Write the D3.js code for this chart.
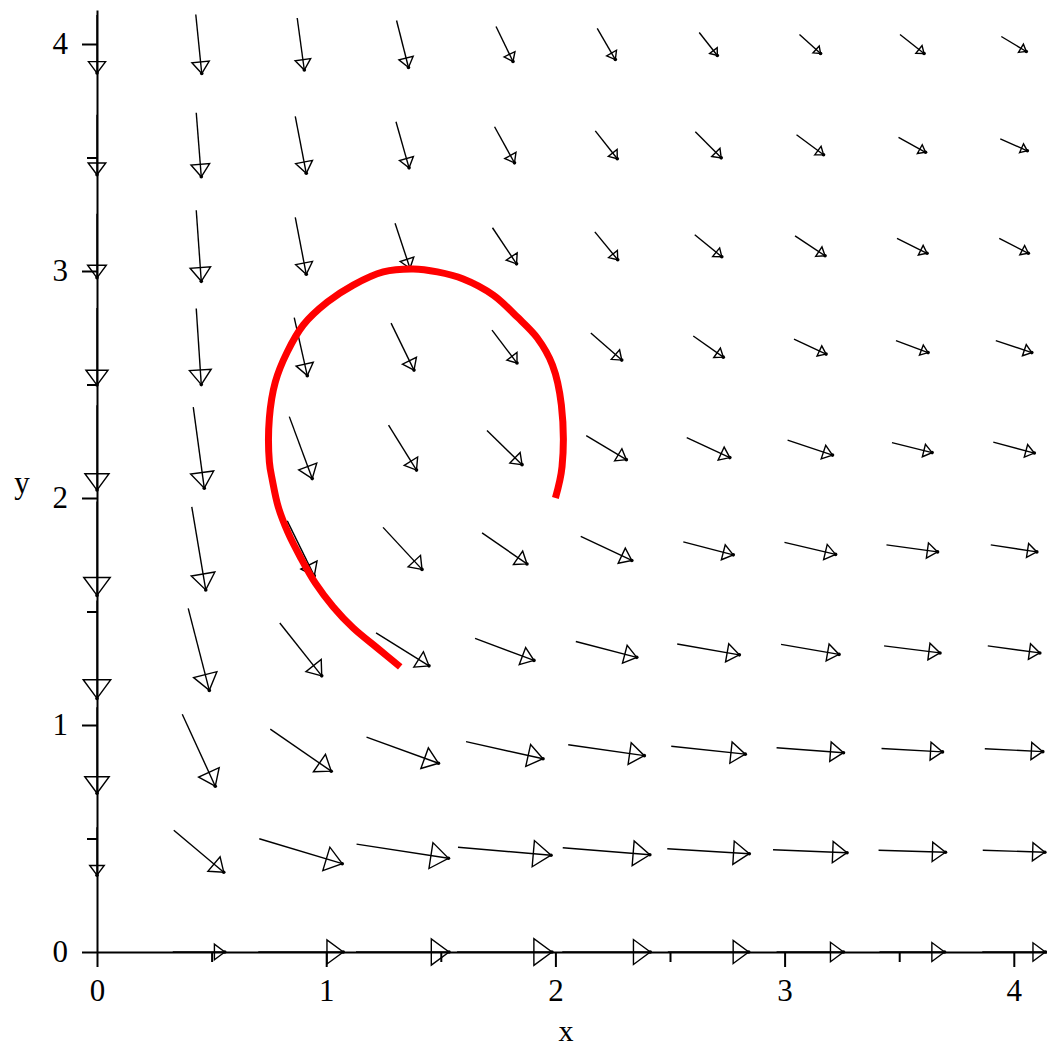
<!DOCTYPE html>
<html>
<head>
<meta charset="utf-8">
<script src="https://cdn.jsdelivr.net/npm/d3@7"></script>
<style>
  body { margin: 0; background: #fff; }
  svg { display: block; }
</style>
</head>
<body>
<script>
'use strict';

var width = 1047,
    height = 1050;

// grid points of the direction field (same in x and y)
var gridX = [0, 0.444, 0.889, 1.333, 1.778, 2.222, 2.667, 3.111, 3.556, 4];
var gridY = [0, 0.444, 0.889, 1.333, 1.778, 2.222, 2.667, 3.111, 3.556, 4];

// arrow extent along x (data units), one row per gridY value, bottom row first
var fieldU = [
    [0, 0.227, 0.371, 0.406, 0.414, 0.384, 0.353, 0.292, 0.284, 0.275],
    [0, 0.218, 0.362, 0.401, 0.406, 0.380, 0.358, 0.323, 0.292, 0.271],
    [0, 0.144, 0.266, 0.314, 0.336, 0.332, 0.323, 0.292, 0.266, 0.253],
    [0, 0.092, 0.183, 0.231, 0.257, 0.266, 0.271, 0.253, 0.244, 0.227],
    [0, 0.061, 0.118, 0.170, 0.196, 0.223, 0.218, 0.223, 0.223, 0.201],
    [0, 0.048, 0.100, 0.122, 0.153, 0.175, 0.188, 0.196, 0.175, 0.179],
    [0, 0.022, 0.057, 0.100, 0.109, 0.135, 0.131, 0.140, 0.140, 0.157],
    [0, 0.022, 0.048, 0.065, 0.105, 0.100, 0.118, 0.131, 0.131, 0.127],
    [0, 0.022, 0.048, 0.057, 0.087, 0.096, 0.113, 0.118, 0.118, 0.118],
    [0, 0.026, 0.031, 0.052, 0.074, 0.079, 0.079, 0.092, 0.105, 0.109]
];

// arrow extent along y (data units)
var fieldV = [
    [0, 0, 0, 0, 0, 0, 0, 0, 0, 0],
    [-0.211, -0.185, -0.110, -0.062, -0.035, -0.031, -0.022, -0.013, -0.009, -0.009],
    [-0.379, -0.317, -0.185, -0.115, -0.075, -0.048, -0.035, -0.022, -0.015, -0.013],
    [-0.432, -0.361, -0.233, -0.145, -0.097, -0.070, -0.048, -0.044, -0.031, -0.031],
    [-0.414, -0.366, -0.242, -0.185, -0.137, -0.106, -0.057, -0.053, -0.031, -0.031],
    [-0.374, -0.357, -0.273, -0.198, -0.150, -0.106, -0.088, -0.066, -0.044, -0.048],
    [-0.339, -0.335, -0.256, -0.207, -0.145, -0.119, -0.093, -0.066, -0.053, -0.053],
    [-0.282, -0.313, -0.251, -0.198, -0.159, -0.123, -0.097, -0.088, -0.066, -0.066],
    [-0.264, -0.282, -0.251, -0.203, -0.159, -0.123, -0.115, -0.088, -0.066, -0.053],
    [-0.256, -0.260, -0.229, -0.207, -0.154, -0.137, -0.101, -0.084, -0.084, -0.066]
];

// red solution curve
var trajX = [2.0, 2.029, 2.026, 1.987, 1.921, 1.834, 1.729, 1.598, 1.485, 1.380, 1.249, 1.118,
             1.005, 0.900, 0.830, 0.778, 0.752, 0.752, 0.765, 0.791, 0.834, 0.887, 0.952,
             1.031, 1.118, 1.223, 1.323];
var trajY = [2.0, 2.138, 2.410, 2.586, 2.705, 2.797, 2.894, 2.965, 2.996, 3.009, 2.996, 2.938,
             2.863, 2.762, 2.643, 2.511, 2.352, 2.159, 2.079, 1.960, 1.846, 1.740, 1.626,
             1.520, 1.427, 1.339, 1.256];

var majorTicks = [0, 1, 2, 3, 4];
var minorTicks = [0.5, 1.5, 2.5, 3.5];

var x = d3.scaleLinear().domain([0, 4.15]).range([97, 97 + 4.15 * 229.2]);
var y = d3.scaleLinear().domain([0, 4.15]).range([952, 952 - 4.15 * 227]);

var svg = d3.select("body")
    .append("svg")
    .attr("width", width)
    .attr("height", height);

// direction field
var arrows = [];
gridY.forEach(function(gy, j) {
    gridX.forEach(function(gx, i) {
        var u = fieldU[j][i], v = fieldV[j][i];
        if (u === 0 && v === 0) return;
        arrows.push({
            x0: x(gx - u / 2), y0: y(gy - v / 2),
            x1: x(gx + u / 2), y1: y(gy + v / 2)
        });
    });
});

var field = svg.append("g").attr("id", "field")
    .attr("stroke", "#000")
    .attr("stroke-width", 1.4)
    .attr("fill", "none");

field.selectAll("line")
    .data(arrows)
    .enter()
    .append("line")
    .attr("x1", function(d) { return d.x0; })
    .attr("y1", function(d) { return d.y0; })
    .attr("x2", function(d) { return d.x1; })
    .attr("y2", function(d) { return d.y1; });

field.selectAll("path")
    .data(arrows)
    .enter()
    .append("path")
    .attr("d", function(d) {
        var dx = d.x1 - d.x0, dy = d.y1 - d.y0;
        var len = Math.sqrt(dx * dx + dy * dy);
        var ux = dx / len, uy = dy / len;
        var h = 0.18 * len + 1, w = 0.13 * len + 1;
        var bx = d.x1 - ux * h, by = d.y1 - uy * h;
        return "M" + (bx - uy * w) + "," + (by + ux * w) +
               "L" + d.x1 + "," + d.y1 +
               "L" + (bx + uy * w) + "," + (by - ux * w) + "Z";
    });

field.selectAll("circle")
    .data(arrows)
    .enter()
    .append("circle")
    .attr("cx", function(d) { return d.x1; })
    .attr("cy", function(d) { return d.y1; })
    .attr("r", 1.8)
    .attr("fill", "#000")
    .attr("stroke", "none");

// axes
var fontFamily = "'Liberation Serif', 'Times New Roman', serif";

svg.append("g")
    .attr("transform", "translate(0," + y(0) + ")")
    .call(d3.axisBottom(x).tickValues(majorTicks).tickSize(15).tickSizeOuter(0).tickPadding(12)
        .tickFormat(d3.format("d")));
svg.append("g")
    .attr("transform", "translate(0," + y(0) + ")")
    .call(d3.axisBottom(x).tickValues(minorTicks).tickSize(10).tickSizeOuter(0).tickFormat(""))
    .select(".domain").remove();

svg.append("g")
    .attr("transform", "translate(" + x(0) + ",0)")
    .call(d3.axisLeft(y).tickValues(majorTicks).tickSize(15).tickSizeOuter(0).tickPadding(14)
        .tickFormat(d3.format("d")));
svg.append("g")
    .attr("transform", "translate(" + x(0) + ",0)")
    .call(d3.axisLeft(y).tickValues(minorTicks).tickSize(10).tickSizeOuter(0).tickFormat(""))
    .select(".domain").remove();

svg.selectAll(".domain, .tick line")
    .attr("stroke", "#000")
    .attr("stroke-width", 2);

svg.selectAll(".tick text")
    .attr("font-family", fontFamily)
    .attr("font-size", 31)
    .attr("fill", "#000");

svg.append("text")
    .attr("x", 566)
    .attr("y", 1041)
    .attr("text-anchor", "middle")
    .attr("font-family", fontFamily)
    .attr("font-size", 30)
    .text("x");

svg.append("text")
    .attr("x", 22)
    .attr("y", 493)
    .attr("text-anchor", "middle")
    .attr("font-family", fontFamily)
    .attr("font-size", 31)
    .text("y");

// solution curve
var line = d3.line()
    .x(function(d, i) { return x(trajX[i]); })
    .y(function(d, i) { return y(trajY[i]); })
    .curve(d3.curveCatmullRom);

svg.append("path")
    .datum(trajX)
    .attr("d", line)
    .attr("fill", "none")
    .attr("stroke", "#ff0000")
    .attr("stroke-width", 7);
</script>
</body>
</html>
